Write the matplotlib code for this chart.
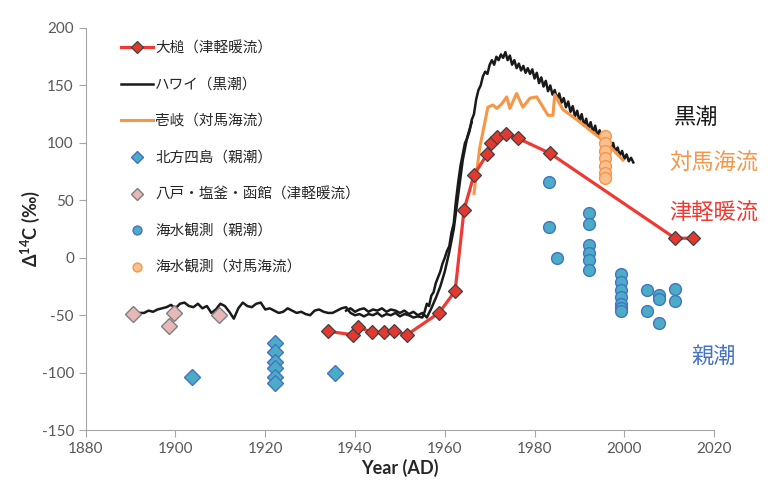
import matplotlib
matplotlib.use("Agg")
import matplotlib.pyplot as plt

plt.rcParams['font.family'] = ['Lato', 'Noto Sans CJK JP', 'DejaVu Sans']
plt.rcParams['mathtext.default'] = 'regular'
plt.rcParams['axes.unicode_minus'] = False

# 大槌 (津軽暖流)
otsuchi_year = [1934, 1939.5, 1940.6, 1943.8, 1946.4, 1948.7, 1951.6, 1958.7, 1962.3,
                1964.3, 1966.5, 1969.4, 1970.3, 1971.6, 1973.6, 1976.3, 1983.4, 2011.3, 2015.3]
otsuchi_val = [-64, -67, -60, -65, -65, -64, -67, -48, -29,
               42, 72, 90, 100, 105, 108, 104, 91, 17, 17]

# ハワイ (黒潮) - main coral record
hawaii_year = [1892, 1893, 1894, 1895, 1896, 1897, 1898, 1899, 1900, 1901, 1902, 1903, 1904,
               1905, 1906, 1907, 1908, 1909, 1910, 1911, 1912, 1913, 1914, 1915, 1916, 1917,
               1918, 1919, 1920, 1921, 1922, 1923, 1924, 1925, 1926, 1927, 1928, 1929, 1930,
               1931, 1932, 1933, 1934, 1935, 1936, 1937, 1938, 1939, 1940, 1941, 1942, 1943,
               1944, 1945, 1946, 1947, 1948, 1949, 1950, 1951, 1952, 1953, 1954,
               1955, 1955.5, 1956, 1956.5, 1957, 1957.5, 1958, 1958.5, 1959, 1959.5,
               1960, 1960.5, 1961, 1961.5, 1962, 1962.5, 1963, 1963.5, 1964, 1964.5,
               1965, 1965.5, 1966, 1966.5, 1967, 1967.5, 1968, 1968.5, 1969, 1969.5,
               1970, 1970.5, 1971, 1971.5, 1972, 1972.5, 1973, 1973.5, 1974, 1974.5,
               1975, 1975.5, 1976, 1976.5, 1977, 1977.5, 1978, 1978.5, 1979, 1979.5,
               1980, 1980.5, 1981, 1981.5, 1982, 1982.5, 1983, 1983.5, 1984, 1984.5,
               1985, 1985.5, 1986, 1986.5, 1987, 1987.5, 1988, 1988.5, 1989, 1989.5,
               1990, 1990.5, 1991, 1991.5, 1992, 1992.5, 1993, 1993.5, 1994, 1994.5,
               1995, 1995.5, 1996, 1996.5, 1997, 1997.5, 1998, 1998.5, 1999, 1999.5,
               2000, 2000.5, 2001, 2001.5, 2002]
hawaii_val = [-48, -48, -46, -47, -45, -44, -43, -41, -44, -40, -39, -42, -43,
              -40, -44, -42, -48, -45, -40, -42, -47, -53, -44, -39, -42, -43,
              -40, -39, -45, -44, -46, -48, -47, -44, -46, -48, -47, -49, -50,
              -46, -45, -47, -48, -48, -46, -44, -43, -48, -50, -49, -51, -49,
              -50, -48, -51, -49, -50, -48, -51, -49, -50, -52, -51,
              -52, -47, -40, -42, -33, -30, -22, -17, -12, -5,
              0, 6, 10, 22, 30, 50, 66, 80, 90, 100,
              104, 110, 120, 125, 138, 146, 150, 158, 162, 160,
              168, 172, 168, 175, 172, 177, 174, 179, 172, 176,
              168, 172, 165, 169, 163, 167, 161, 165, 160, 164,
              156, 161, 152, 157, 149, 154, 145, 150, 142, 146,
              138, 143, 135, 139, 131, 136, 127, 132, 123, 128,
              119, 125, 115, 121, 112, 118, 109, 115, 106, 111,
              102, 108, 99, 104, 95, 100, 92, 96, 89, 93,
              86, 90, 84, 87, 83]

# ハワイ (黒潮) - second overlapping record
hawaii2_year = [1938, 1939, 1940, 1941, 1942, 1943, 1944, 1945, 1946, 1947, 1948, 1949,
                1950, 1951, 1952, 1953, 1954, 1955, 1956, 1957, 1958, 1959, 1960, 1961,
                1962, 1963, 1964, 1965, 1966]
hawaii2_val = [-46, -44, -47, -45, -44, -47, -45, -46, -44, -47, -45, -46,
               -48, -46, -49, -47, -50, -48, -52, -44, -35, -25, -12, 5,
               25, 55, 85, 105, 118]

# 壱岐 (対馬海流)
iki_year = [1966.5, 1967.8, 1969.6, 1970.7, 1971.6, 1972.7, 1973.8, 1974.5, 1976, 1977.4,
            1979, 1980.5, 1983, 1984.1, 1984.5, 1986.3, 1989.5, 1993, 1996, 1999.7]
iki_val = [56, 96, 131, 133, 130, 134, 140, 130, 143, 131,
           139, 140, 124, 124, 142, 129, 120, 109, 100, 85]

# 北方四島 (親潮)
hoppo_year = [1903.6, 1922.1, 1922.1, 1922.1, 1922.1, 1922.1, 1922.1, 1935.5]
hoppo_val = [-104, -74, -82, -91, -96, -104, -109, -100]

# 八戸・塩釜・函館 (津軽暖流)
hachinohe_year = [1890.5, 1898.5, 1899.6, 1909.6]
hachinohe_val = [-49, -59, -48, -50]

# 海水観測 (親潮)
sw_oya_year = [1983.2, 1983.2, 1985, 1992.2, 1992.2, 1992.2, 1992.2, 1992.2, 1992.2,
               1999.3, 1999.3, 1999.3, 1999.3, 1999.3, 1999.3, 1999.3,
               2005, 2005, 2007.7, 2007.7, 2007.7, 2011.3, 2011.3]
sw_oya_val = [66, 27, 0, 39, 29, 11, 4, -2, -11,
              -14, -21, -28, -34, -40, -44, -46,
              -28, -46, -32, -36, -57, -27, -38]

# 海水観測 (対馬海流)
sw_tsu_year = [1995.7, 1995.7, 1995.7, 1995.7, 1995.7, 1995.7, 1995.7]
sw_tsu_val = [106, 100, 93, 87, 80, 74, 69]

fig = plt.figure(figsize=(7.72, 4.91), dpi=100)
ax = fig.add_axes([0.111, 0.124, 0.814, 0.819])

ax.plot(hawaii2_year, hawaii2_val, color='#1a1a1a', lw=1.8, zorder=2)
ax.plot(hawaii_year, hawaii_val, color='#1a1a1a', lw=1.8, zorder=2, label='ハワイ（黒潮）')
ax.plot(iki_year, iki_val, color='#F79646', lw=2.2, zorder=3, label='壱岐（対馬海流）')
ax.plot(otsuchi_year, otsuchi_val, color='#EE3A33', lw=2.3, marker='D', ms=7.5,
        mfc='#E2382F', mec='#404040', mew=0.9, zorder=4, label='大槌（津軽暖流）')
ax.plot(hoppo_year, hoppo_val, ls='none', marker='D', ms=8, mfc='#4BACC6',
        mec='#4472C4', mew=1, zorder=5, label='北方四島（親潮）')
ax.plot(hachinohe_year, hachinohe_val, ls='none', marker='D', ms=8, mfc='#E6B9B8',
        mec='#7F7F7F', mew=1, zorder=5, label='八戸・塩釜・函館（津軽暖流）')
ax.plot(sw_oya_year, sw_oya_val, ls='none', marker='o', ms=8.5, mfc='#4BACC6',
        mec='#4472C4', mew=1, zorder=5, label='海水観測（親潮）')
ax.plot(sw_tsu_year, sw_tsu_val, ls='none', marker='o', ms=8.5, mfc='#FAC090',
        mec='#F79646', mew=1, zorder=5, label='海水観測（対馬海流）')

handles, labels = ax.get_legend_handles_labels()
order = ['大槌（津軽暖流）', 'ハワイ（黒潮）', '壱岐（対馬海流）', '北方四島（親潮）',
         '八戸・塩釜・函館（津軽暖流）', '海水観測（親潮）', '海水観測（対馬海流）']
hd = dict(zip(labels, handles))
leg = ax.legend([hd[k] for k in order], order, loc='upper left',
                bbox_to_anchor=(0.035, 1.0), frameon=False, fontsize=10.5,
                labelspacing=1.55, handlelength=2.2, handletextpad=0.15,
                markerscale=0.75)
for t in leg.get_texts():
    t.set_color('#262626')

ax.set_xlim(1880, 2020)
ax.set_ylim(-150, 200)
ax.set_xticks(range(1880, 2021, 20))
ax.set_yticks(range(-150, 201, 50))
for s in ['top', 'right']:
    ax.spines[s].set_visible(False)
for s in ['left', 'bottom']:
    ax.spines[s].set_color('#A6A6A6')
ax.tick_params(colors='#A6A6A6', labelcolor='#595959', labelsize=11, length=5)
ax.set_xlabel('Year (AD)', fontsize=13, fontweight='bold', color='#262626', labelpad=2)
ax.set_ylabel('Δ$^{14}$C (‰)', fontsize=13, fontweight='bold', color='#262626', labelpad=0)

ax.text(2016, 122, '黒潮', color='#1a1a1a', fontsize=16, ha='center', va='center', clip_on=False)
ax.text(2020, 82, '対馬海流', color='#F79646', fontsize=16, ha='center', va='center', clip_on=False)
ax.text(2020, 39, '津軽暖流', color='#EE3A33', fontsize=16, ha='center', va='center', clip_on=False)
ax.text(2019.8, -86, '親潮', color='#4472C4', fontsize=16, ha='center', va='center', clip_on=False)

fig.savefig('out.png', dpi=100)
